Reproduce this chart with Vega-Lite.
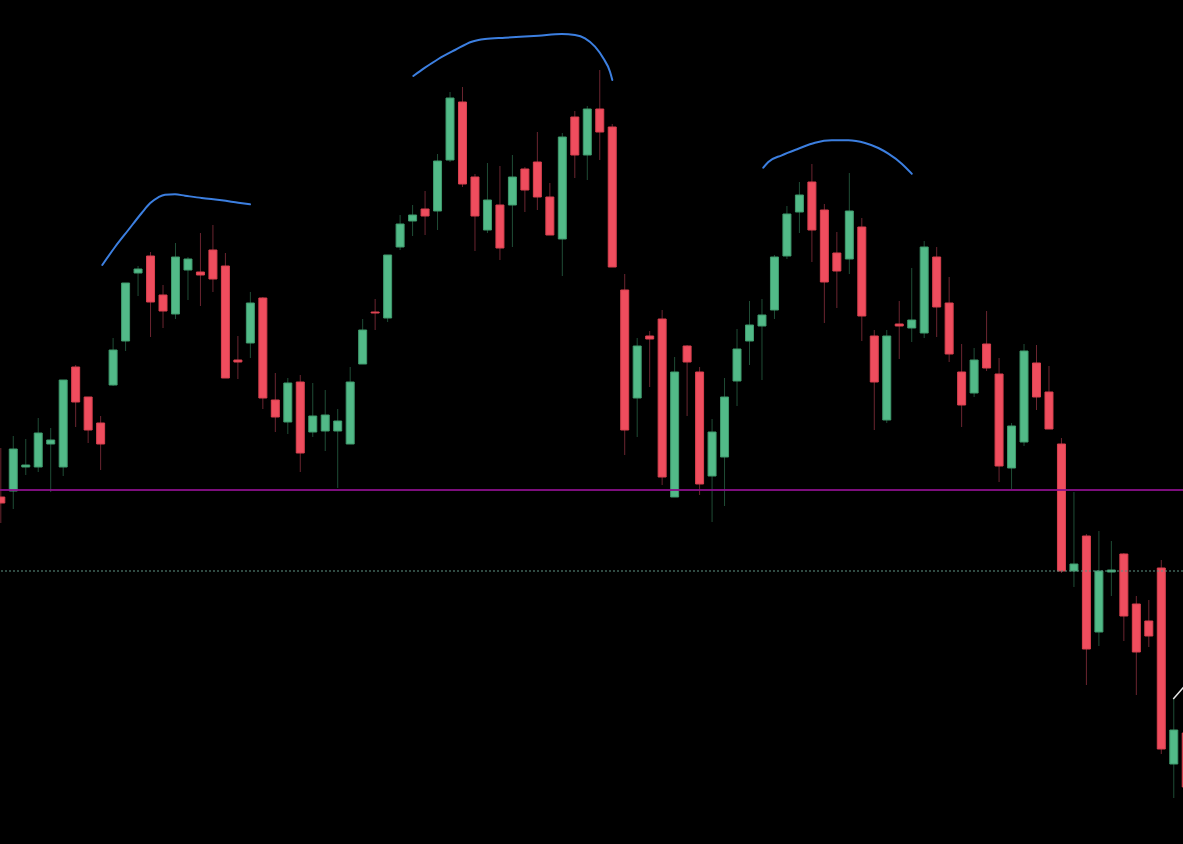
{
  "$schema": "https://vega.github.io/schema/vega-lite/v6.json",
  "width": 1183,
  "height": 844,
  "padding": 0,
  "autosize": {"type": "none"},
  "background": "#000000",
  "config": {"view": {"stroke": null}},
  "datasets": {
    "candles": [
      {"i": 0, "open": 134.7, "high": 139.6, "low": 132.1, "close": 134.1},
      {"i": 1, "open": 135.3, "high": 140.8, "low": 133.5, "close": 139.5},
      {"i": 2, "open": 137.7, "high": 140.5, "low": 136.9, "close": 137.9},
      {"i": 3, "open": 137.7, "high": 142.6, "low": 137.2, "close": 141.1},
      {"i": 4, "open": 140.0, "high": 141.6, "low": 135.2, "close": 140.4},
      {"i": 5, "open": 137.7, "high": 146.4, "low": 136.8, "close": 146.4},
      {"i": 6, "open": 147.7, "high": 147.9, "low": 141.7, "close": 144.2},
      {"i": 7, "open": 144.7, "high": 144.7, "low": 140.1, "close": 141.4},
      {"i": 8, "open": 142.1, "high": 142.8, "low": 137.4, "close": 140.0},
      {"i": 9, "open": 145.9, "high": 150.6, "low": 145.8, "close": 149.4},
      {"i": 10, "open": 150.3, "high": 156.1, "low": 149.3, "close": 156.1},
      {"i": 11, "open": 157.1, "high": 157.8, "low": 154.8, "close": 157.5},
      {"i": 12, "open": 158.8, "high": 159.2, "low": 150.7, "close": 154.2},
      {"i": 13, "open": 154.9, "high": 155.9, "low": 151.6, "close": 153.3},
      {"i": 14, "open": 153.0, "high": 160.1, "low": 152.5, "close": 158.7},
      {"i": 15, "open": 157.4, "high": 158.7, "low": 154.4, "close": 158.5},
      {"i": 16, "open": 157.2, "high": 161.1, "low": 153.8, "close": 156.9},
      {"i": 17, "open": 159.4, "high": 161.9, "low": 155.2, "close": 156.5},
      {"i": 18, "open": 157.8, "high": 159.1, "low": 146.6, "close": 146.6},
      {"i": 19, "open": 148.4, "high": 150.8, "low": 146.5, "close": 148.2},
      {"i": 20, "open": 150.1, "high": 155.2, "low": 148.6, "close": 154.1},
      {"i": 21, "open": 154.6, "high": 154.7, "low": 143.5, "close": 144.6},
      {"i": 22, "open": 144.4, "high": 147.1, "low": 141.2, "close": 142.7},
      {"i": 23, "open": 142.2, "high": 146.6, "low": 141.0, "close": 146.1},
      {"i": 24, "open": 146.2, "high": 146.9, "low": 137.2, "close": 139.1},
      {"i": 25, "open": 141.2, "high": 146.1, "low": 140.7, "close": 142.8},
      {"i": 26, "open": 141.3, "high": 145.4, "low": 139.3, "close": 142.9},
      {"i": 27, "open": 141.3, "high": 143.5, "low": 135.6, "close": 142.3},
      {"i": 28, "open": 140.0, "high": 147.7, "low": 140.0, "close": 146.2},
      {"i": 29, "open": 148.0, "high": 152.5, "low": 148.0, "close": 151.4},
      {"i": 30, "open": 153.2, "high": 154.5, "low": 151.4, "close": 153.1},
      {"i": 31, "open": 152.6, "high": 158.9, "low": 152.2, "close": 158.9},
      {"i": 32, "open": 159.7, "high": 162.9, "low": 159.4, "close": 162.0},
      {"i": 33, "open": 162.3, "high": 163.9, "low": 160.8, "close": 162.9},
      {"i": 34, "open": 163.5, "high": 165.3, "low": 160.9, "close": 162.8},
      {"i": 35, "open": 163.3, "high": 169.0, "low": 161.4, "close": 168.3},
      {"i": 36, "open": 168.4, "high": 175.2, "low": 168.2, "close": 174.6},
      {"i": 37, "open": 174.2, "high": 175.7, "low": 165.7, "close": 166.0},
      {"i": 38, "open": 166.7, "high": 167.0, "low": 159.3, "close": 162.8},
      {"i": 39, "open": 161.4, "high": 168.1, "low": 161.1, "close": 164.4},
      {"i": 40, "open": 163.9, "high": 167.8, "low": 158.4, "close": 159.6},
      {"i": 41, "open": 163.9, "high": 168.9, "low": 159.7, "close": 166.7},
      {"i": 42, "open": 167.5, "high": 167.7, "low": 163.2, "close": 165.4},
      {"i": 43, "open": 168.2, "high": 171.2, "low": 163.4, "close": 164.7},
      {"i": 44, "open": 164.7, "high": 166.1, "low": 160.9, "close": 160.9},
      {"i": 45, "open": 160.5, "high": 171.1, "low": 156.8, "close": 170.7},
      {"i": 46, "open": 172.7, "high": 173.3, "low": 166.6, "close": 168.9},
      {"i": 47, "open": 168.9, "high": 173.8, "low": 166.4, "close": 173.5},
      {"i": 48, "open": 173.5, "high": 177.4, "low": 168.4, "close": 171.2},
      {"i": 49, "open": 171.7, "high": 172.0, "low": 157.7, "close": 157.7},
      {"i": 50, "open": 155.4, "high": 157.0, "low": 138.9, "close": 141.4},
      {"i": 51, "open": 144.6, "high": 150.6, "low": 140.7, "close": 149.8},
      {"i": 52, "open": 150.8, "high": 151.3, "low": 145.7, "close": 150.5},
      {"i": 53, "open": 152.5, "high": 153.4, "low": 135.9, "close": 136.7},
      {"i": 54, "open": 134.7, "high": 148.7, "low": 134.7, "close": 147.2},
      {"i": 55, "open": 149.8, "high": 149.9, "low": 142.8, "close": 148.2},
      {"i": 56, "open": 147.2, "high": 147.7, "low": 134.9, "close": 136.0},
      {"i": 57, "open": 136.8, "high": 142.5, "low": 132.2, "close": 141.2},
      {"i": 58, "open": 138.7, "high": 146.6, "low": 133.8, "close": 144.7},
      {"i": 59, "open": 146.3, "high": 151.5, "low": 143.8, "close": 149.5},
      {"i": 60, "open": 150.3, "high": 154.3, "low": 147.9, "close": 151.9},
      {"i": 61, "open": 151.8, "high": 154.5, "low": 146.4, "close": 152.9},
      {"i": 62, "open": 153.4, "high": 158.9, "low": 152.5, "close": 158.7},
      {"i": 63, "open": 158.8, "high": 163.8, "low": 158.5, "close": 163.0},
      {"i": 64, "open": 163.2, "high": 166.2, "low": 161.1, "close": 164.9},
      {"i": 65, "open": 166.2, "high": 168.0, "low": 158.2, "close": 161.4},
      {"i": 66, "open": 163.4, "high": 164.0, "low": 152.1, "close": 156.2},
      {"i": 67, "open": 159.1, "high": 161.2, "low": 153.6, "close": 157.3},
      {"i": 68, "open": 158.5, "high": 167.1, "low": 157.0, "close": 163.3},
      {"i": 69, "open": 161.7, "high": 162.6, "low": 150.3, "close": 152.8},
      {"i": 70, "open": 150.8, "high": 151.4, "low": 141.4, "close": 146.2},
      {"i": 71, "open": 142.4, "high": 151.4, "low": 142.1, "close": 150.8},
      {"i": 72, "open": 152.0, "high": 154.3, "low": 148.5, "close": 151.8},
      {"i": 73, "open": 151.6, "high": 157.6, "low": 150.2, "close": 152.4},
      {"i": 74, "open": 151.1, "high": 160.3, "low": 150.6, "close": 159.7},
      {"i": 75, "open": 158.7, "high": 159.7, "low": 150.7, "close": 153.7},
      {"i": 76, "open": 154.1, "high": 156.7, "low": 148.2, "close": 149.0},
      {"i": 77, "open": 147.2, "high": 150.0, "low": 141.7, "close": 143.9},
      {"i": 78, "open": 145.1, "high": 149.6, "low": 144.7, "close": 148.4},
      {"i": 79, "open": 150.0, "high": 153.3, "low": 147.3, "close": 147.6},
      {"i": 80, "open": 147.0, "high": 148.6, "low": 136.2, "close": 137.8},
      {"i": 81, "open": 137.6, "high": 142.1, "low": 135.5, "close": 141.8},
      {"i": 82, "open": 140.2, "high": 150.0, "low": 139.8, "close": 149.3},
      {"i": 83, "open": 148.1, "high": 149.9, "low": 143.4, "close": 144.7},
      {"i": 84, "open": 145.2, "high": 147.8, "low": 141.5, "close": 141.5},
      {"i": 85, "open": 140.0, "high": 140.6, "low": 127.1, "close": 127.3},
      {"i": 86, "open": 127.3, "high": 135.2, "low": 125.7, "close": 128.0},
      {"i": 87, "open": 130.8, "high": 131.0, "low": 115.9, "close": 119.5},
      {"i": 88, "open": 121.2, "high": 131.3, "low": 119.8, "close": 127.3},
      {"i": 89, "open": 127.2, "high": 130.3, "low": 124.8, "close": 127.4},
      {"i": 90, "open": 129.0, "high": 129.1, "low": 120.3, "close": 122.8},
      {"i": 91, "open": 124.0, "high": 124.8, "low": 114.9, "close": 119.2},
      {"i": 92, "open": 122.3, "high": 124.4, "low": 119.7, "close": 120.8},
      {"i": 93, "open": 127.6, "high": 128.4, "low": 109.0, "close": 109.5},
      {"i": 94, "open": 108.0, "high": 114.5, "low": 104.6, "close": 111.4},
      {"i": 95, "open": 111.1, "high": 111.6, "low": 104.6, "close": 105.7}
    ],
    "levels": [
      {"name": "support", "price": 135.4},
      {"name": "last", "price": 127.3}
    ],
    "arcs": [
      {"arc": "left", "i": 8.134, "price": 157.9},
      {"arc": "left", "i": 9.152, "price": 159.7},
      {"arc": "left", "i": 10.218, "price": 161.4},
      {"arc": "left", "i": 11.292, "price": 163.1},
      {"arc": "left", "i": 11.957, "price": 164.07},
      {"arc": "left", "i": 12.622, "price": 164.67},
      {"arc": "left", "i": 13.159, "price": 164.93},
      {"arc": "left", "i": 13.96, "price": 164.97},
      {"arc": "left", "i": 14.762, "price": 164.83},
      {"arc": "left", "i": 16.1, "price": 164.6},
      {"arc": "left", "i": 17.703, "price": 164.37},
      {"arc": "left", "i": 19.033, "price": 164.13},
      {"arc": "left", "i": 19.971, "price": 163.97},
      {"arc": "head", "i": 33.058, "price": 176.8},
      {"arc": "head", "i": 33.996, "price": 177.63},
      {"arc": "head", "i": 35.062, "price": 178.5},
      {"arc": "head", "i": 36.4, "price": 179.4},
      {"arc": "head", "i": 37.739, "price": 180.23},
      {"arc": "head", "i": 38.805, "price": 180.5},
      {"arc": "head", "i": 40.407, "price": 180.63},
      {"arc": "head", "i": 43.076, "price": 180.83},
      {"arc": "head", "i": 44.951, "price": 181.0},
      {"arc": "head", "i": 46.017, "price": 180.9},
      {"arc": "head", "i": 46.818, "price": 180.57},
      {"arc": "head", "i": 47.62, "price": 179.73},
      {"arc": "head", "i": 48.285, "price": 178.57},
      {"arc": "head", "i": 48.822, "price": 177.23},
      {"arc": "head", "i": 49.006, "price": 176.4},
      {"arc": "right", "i": 61.107, "price": 167.63},
      {"arc": "right", "i": 61.508, "price": 168.2},
      {"arc": "right", "i": 62.582, "price": 168.87},
      {"arc": "right", "i": 63.912, "price": 169.53},
      {"arc": "right", "i": 65.25, "price": 170.13},
      {"arc": "right", "i": 66.589, "price": 170.37},
      {"arc": "right", "i": 67.919, "price": 170.37},
      {"arc": "right", "i": 69.258, "price": 170.1},
      {"arc": "right", "i": 70.324, "price": 169.6},
      {"arc": "right", "i": 71.125, "price": 169.03},
      {"arc": "right", "i": 72.199, "price": 168.03},
      {"arc": "right", "i": 73.0, "price": 167.03}
    ],
    "trend": [
      {"i": 93.96, "price": 114.5},
      {"i": 95.3, "price": 116.4}
    ]
  },
  "layer": [
    {
      "data": {"name": "candles"},
      "mark": {"type": "rule", "strokeWidth": 1, "clip": true},
      "encoding": {
        "x": {"field": "i", "type": "quantitative", "scale": {"domain": [-0.064, 94.74], "nice": false, "zero": false, "padding": 0}, "axis": null},
        "y": {"field": "low", "type": "quantitative", "scale": {"domain": [100, 184.4], "nice": false, "zero": false, "padding": 0}, "axis": null},
        "y2": {"field": "high"},
        "color": {
          "condition": {"test": "datum.close >= datum.open", "value": "#1f4d36"},
          "value": "#6b2530"
        }
      }
    },
    {
      "data": {"name": "candles"},
      "mark": {"type": "bar", "width": 8, "strokeWidth": 1, "clip": true},
      "encoding": {
        "x": {"field": "i", "type": "quantitative"},
        "y": {"field": "open", "type": "quantitative"},
        "y2": {"field": "close"},
        "color": {
          "condition": {"test": "datum.close >= datum.open", "value": "#52ba88"},
          "value": "#ef4d5e"
        },
        "stroke": {
          "condition": {"test": "datum.close >= datum.open", "value": "#3f9a6d"},
          "value": "#d9414f"
        }
      }
    },
    {
      "data": {"name": "levels"},
      "transform": [{"filter": "datum.name == 'support'"}],
      "mark": {"type": "rule", "color": "#8a0f8a", "strokeWidth": 2, "opacity": 0.9},
      "encoding": {
        "y": {"field": "price", "type": "quantitative"}
      }
    },
    {
      "data": {"name": "levels"},
      "transform": [{"filter": "datum.name == 'last'"}],
      "mark": {"type": "rule", "color": "#5e9484", "strokeWidth": 1, "strokeDash": [2, 2]},
      "encoding": {
        "y": {"field": "price", "type": "quantitative"}
      }
    },
    {
      "data": {"name": "arcs"},
      "mark": {"type": "line", "color": "#3c7fe0", "strokeWidth": 2, "interpolate": "monotone", "strokeCap": "round"},
      "encoding": {
        "x": {"field": "i", "type": "quantitative"},
        "y": {"field": "price", "type": "quantitative"},
        "detail": {"field": "arc"}
      }
    },
    {
      "data": {"name": "trend"},
      "mark": {"type": "line", "color": "#e8e8e8", "strokeWidth": 1.5, "clip": true},
      "encoding": {
        "x": {"field": "i", "type": "quantitative"},
        "y": {"field": "price", "type": "quantitative"}
      }
    }
  ]
}
